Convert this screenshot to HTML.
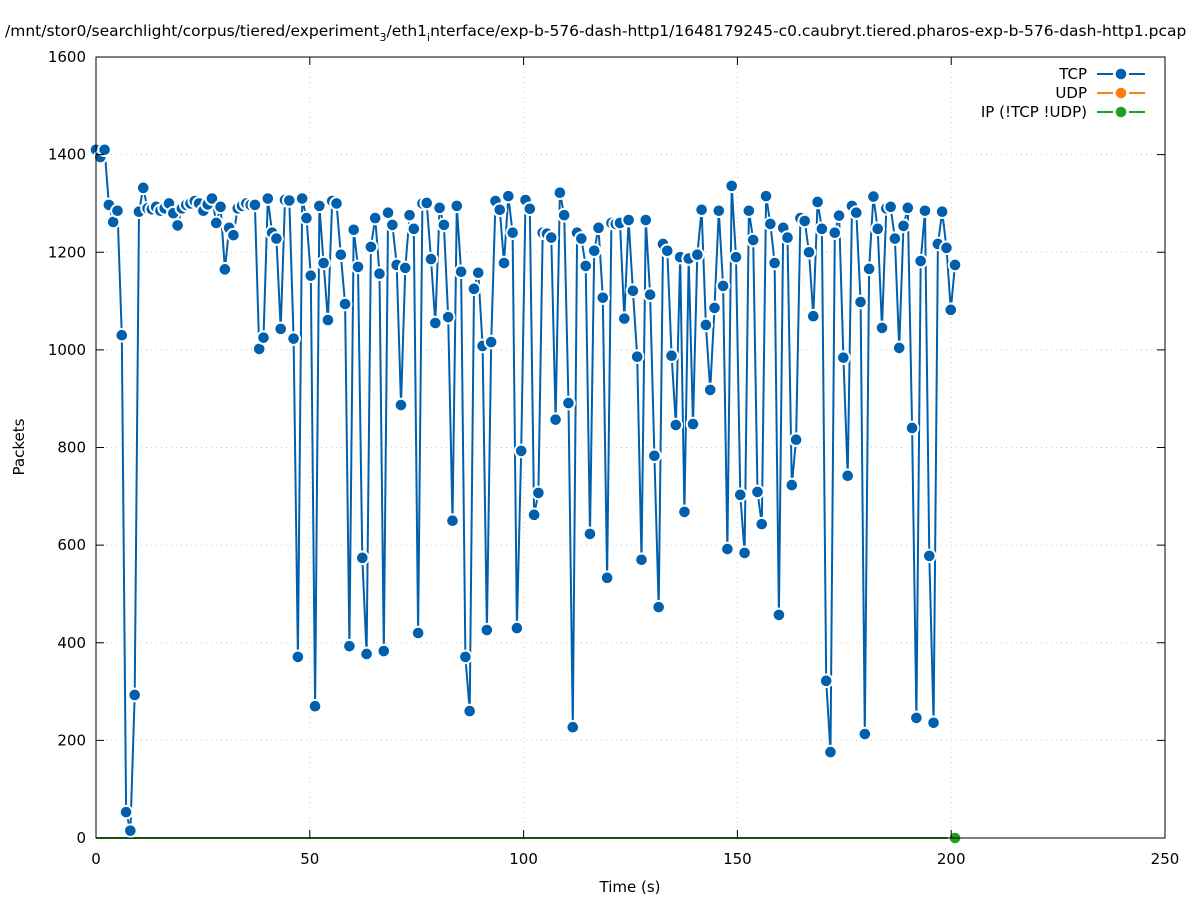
<!DOCTYPE html>
<html><head><meta charset="utf-8"><style>
body{margin:0;background:#fff;}
svg{display:block;font-family:"DejaVu Sans","Liberation Sans",sans-serif;}
</style></head><body>
<svg id="chart" width="1197" height="900" viewBox="0 0 1197 900">
<text x="5" y="36" font-size="15.5">/mnt/stor0/searchlight/corpus/tiered/experiment<tspan font-size="11" dy="5">3</tspan><tspan dy="-5">/eth1</tspan><tspan font-size="11" dy="5">i</tspan><tspan dy="-5">nterface/exp-b-576-dash-http1/1648179245-c0.caubryt.tiered.pharos-exp-b-576-dash-http1.pcap</tspan></text>
<g id="grid"></g>
<g id="series"></g>
<g id="axes"></g>
<text x="630" y="892" font-size="15" text-anchor="middle">Time (s)</text>
<text x="24" y="447" font-size="15" text-anchor="middle" transform="rotate(-90 24 447)">Packets</text>
<g id="legend"></g>
</svg>
<script>
const xTicks=[0,50,100,150,200,250];
const yTicks=[0,200,400,600,800,1000,1200,1400,1600];
const tcpValues=[1410,1395,1410,1297,1262,1285,1030,53,15,293,1283,1332,1290,1288,1293,1285,1290,1300,1280,1255,1290,1297,1300,1305,1300,1285,1298,1310,1260,1293,1165,1250,1235,1290,1295,1300,1297,1297,1002,1025,1310,1240,1228,1043,1307,1306,1023,371,1310,1270,1152,270,1295,1178,1061,1305,1300,1195,1094,393,1246,1170,574,377,1211,1270,1156,383,1281,1256,1174,887,1168,1276,1248,420,1300,1301,1186,1055,1291,1256,1067,650,1295,1160,371,260,1125,1158,1008,426,1016,1305,1287,1178,1315,1240,430,793,1307,1289,662,707,1240,1238,1230,857,1322,1276,891,227,1240,1228,1172,623,1203,1250,1107,533,1260,1258,1260,1064,1266,1121,986,570,1266,1113,783,473,1217,1203,988,846,1190,668,1187,848,1195,1287,1051,918,1086,1285,1131,592,1336,1190,703,584,1285,1225,709,643,1315,1258,1178,457,1250,1230,723,816,1270,1264,1200,1069,1303,1248,322,176,1240,1275,984,742,1295,1281,1098,213,1166,1314,1248,1045,1290,1293,1228,1004,1254,1291,840,246,1182,1285,578,236,1217,1283,1209,1082,1174];
const ipLast=[200.9,0];
const dt=1.0045;
const X0=96,X1=1165,Y0=838,Y1=57;
const xs=v=>X0+(v/250)*(X1-X0);
const ys=v=>Y0-(v/1600)*(Y0-Y1);
const NS='http://www.w3.org/2000/svg';
function mk(tag,attrs,parent){const e=document.createElementNS(NS,tag);for(const k in attrs)e.setAttribute(k,attrs[k]);parent.appendChild(e);return e;}
const grid=document.getElementById('grid'),axes=document.getElementById('axes'),ser=document.getElementById('series'),leg=document.getElementById('legend');
xTicks.forEach(t=>{
 const x=xs(t);
 if(t>0&&t<250){const l=mk('line',{x1:x,y1:Y1,x2:x,y2:Y0,stroke:'#ccc','stroke-dasharray':'1 4'},grid);}
 const tk=mk('line',{x1:x,y1:Y0,x2:x,y2:Y0-8,stroke:'#000'},axes);
 const tk2=mk('line',{x1:x,y1:Y1,x2:x,y2:Y1+8,stroke:'#000'},axes);
 const tx=mk('text',{x:x,y:864,'font-size':15,'text-anchor':'middle'},axes);tx.textContent=t;
});
yTicks.forEach(t=>{
 const y=ys(t);
 if(t>0&&t<1600){const l=mk('line',{x1:X0,y1:y,x2:X1,y2:y,stroke:'#ccc','stroke-dasharray':'1 4'},grid);}
 const tk=mk('line',{x1:X0,y1:y,x2:X0+8,y2:y,stroke:'#000'},axes);
 const tk2=mk('line',{x1:X1,y1:y,x2:X1-8,y2:y,stroke:'#000'},axes);
 const tx=mk('text',{x:86,y:y+5,'font-size':15,'text-anchor':'end'},axes);tx.textContent=t;
});
const frame=mk('rect',{x:X0,y:Y1,width:X1-X0,height:Y0-Y1,fill:'none',stroke:'#000','stroke-width':1},axes);

const ipl=mk('line',{x1:xs(0),y1:Y0,x2:xs(ipLast[0]),y2:Y0,stroke:'#20a020','stroke-width':2},ser);

const pts=tcpValues.map((v,i)=>xs(i*dt).toFixed(1)+','+ys(v).toFixed(1)).join(' ');
const w=mk('polyline',{points:pts,fill:'none',stroke:'#fff','stroke-width':5,'stroke-linejoin':'round'},ser);

const b=mk('polyline',{points:pts,fill:'none',stroke:'#0060ad','stroke-width':2,'stroke-linejoin':'round'},ser);

tcpValues.forEach((v,i)=>{
 const c=mk('circle',{cx:xs(i*dt),cy:ys(v),r:6.3,fill:'#0060ad',stroke:'#fff','stroke-width':2},ser);
 
});
const ip=mk('circle',{cx:xs(ipLast[0]),cy:ys(ipLast[1]),r:6.3,fill:'#20a020',stroke:'#fff','stroke-width':2},ser);

[['TCP','#0060ad',74],['UDP','#ff7f0e',93],['IP (!TCP  !UDP)','#20a020',112]].forEach(([n,c,y])=>{
 const t=mk('text',{x:1087,y:y+5,'font-size':15,'text-anchor':'end','xml:space':'preserve'},leg);t.textContent=n;
 const l=mk('line',{x1:1097,y1:y,x2:1145,y2:y,stroke:c,'stroke-width':2,'stroke-dasharray':'16 6 4 6 16'},leg);
 const p=mk('circle',{cx:1121,cy:y,r:6.3,fill:c,stroke:'#fff','stroke-width':2},leg);
});
</script>
</body></html>
